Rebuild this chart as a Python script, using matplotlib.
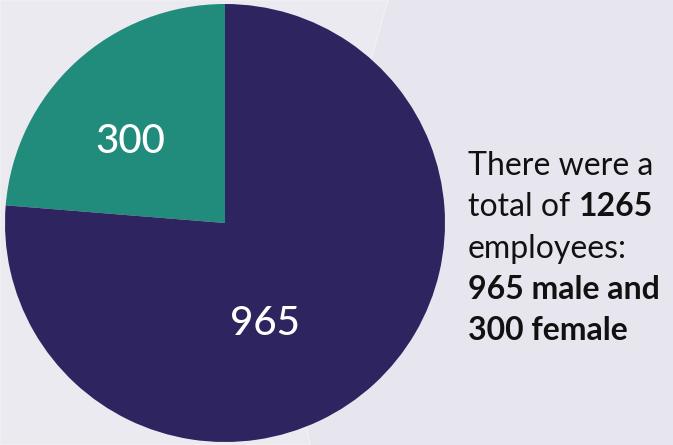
import matplotlib
matplotlib.use("Agg")
import matplotlib.pyplot as plt
from matplotlib.patches import Polygon

# data
genders = ["female", "male"]
counts = [300, 965]
colors = ["#218B7C", "#2D2460"]

total = sum(counts)

plt.rcParams['font.family'] = ['Lato', 'DejaVu Sans']

fig = plt.figure(figsize=(6.73, 4.45), dpi=100)
fig.patch.set_facecolor("#E7E6EF")

# faint lighter background shape, drawn in its own axes behind the pie
bg_ax = fig.add_axes([0, 0, 1, 1], zorder=0)
bg_ax.set_xlim(0, 673)
bg_ax.set_ylim(445, 0)
bg_ax.axis("off")
bg_ax.add_patch(Polygon([(0, 0), (388, 0), (343, 157), (297, 377), (310, 445), (0, 445)],
                        closed=True, facecolor="#EBEAF0", edgecolor="#F3F2F7",
                        linewidth=0.8))

ax = fig.add_axes([5/673, 3/445, 440/673, 438/445], zorder=1)
ax.set_facecolor("none")
wedges, _ = ax.pie(counts, colors=colors, startangle=90, counterclock=True,
                   radius=1, wedgeprops=dict(linewidth=0))
ax.set_xlim(-1, 1)
ax.set_ylim(-1, 1)
ax.set_aspect("auto")
ax.axis("off")

# wedge value labels
label_pos = [(-0.43, 0.37), (0.18, -0.46)]
for (x, y), c in zip(label_pos, counts):
    ax.text(x, y, str(c), color="white", fontsize=29, fontweight="medium",
            ha="center", va="center")

# annotation text on the right
x0 = 468 / 673
baselines = [175, 216, 258, 299, 340]
lines = [
    [("There were a", "normal")],
    [("total of ", "normal"), (str(total), "bold")],
    [("employees:", "normal")],
    [(f"{counts[1]} male and", "bold")],
    [(f"{counts[0]} female", "bold")],
]
fig.canvas.draw()
renderer = fig.canvas.get_renderer()
for yb, parts in zip(baselines, lines):
    x = x0
    for s, w in parts:
        t = fig.text(x, 1 - yb / 445, s, fontsize=23, fontweight=w,
                     color="#111111", ha="left", va="baseline", zorder=3)
        bb = t.get_window_extent(renderer=renderer)
        x = bb.x1 / fig.bbox.width

fig.savefig("out.png", dpi=100, facecolor=fig.get_facecolor())
